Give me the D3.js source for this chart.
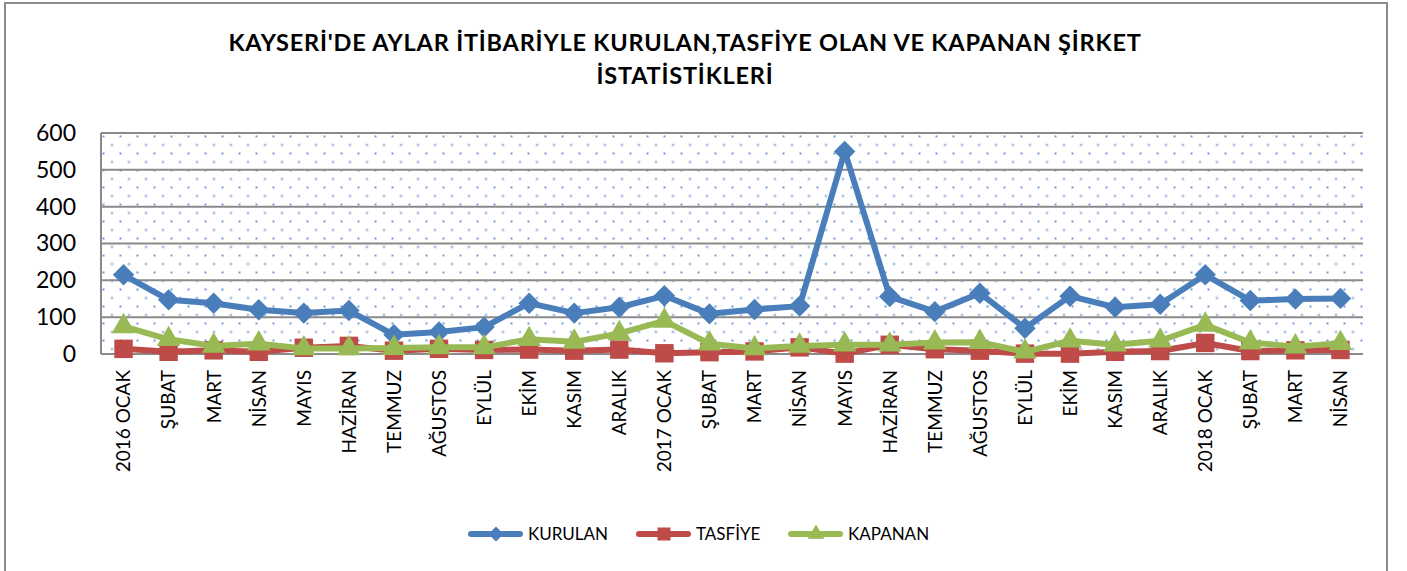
<!DOCTYPE html>
<html>
<head>
<meta charset="utf-8">
<script src="https://cdn.jsdelivr.net/npm/d3@7.9.0/dist/d3.min.js"></script>
<style>
  body { margin: 0; background: #fff; }
  svg { display: block; font-family: Lato, "Open Sans", sans-serif; }
</style>
</head>
<body>
<svg id="chart" width="1407" height="571"></svg>
<script>
const months = ['2016 OCAK', 'ŞUBAT', 'MART', 'NİSAN', 'MAYIS', 'HAZİRAN', 'TEMMUZ', 'AĞUSTOS', 'EYLÜL', 'EKİM', 'KASIM', 'ARALIK',
  '2017 OCAK', 'ŞUBAT', 'MART', 'NİSAN', 'MAYIS', 'HAZİRAN', 'TEMMUZ', 'AĞUSTOS', 'EYLÜL', 'EKİM', 'KASIM', 'ARALIK',
  '2018 OCAK', 'ŞUBAT', 'MART', 'NİSAN'];
const kurulan = [215, 147, 138, 120, 111, 118, 52, 60, 73, 138, 111, 127, 158, 109, 121, 130, 550, 156, 115, 165, 70, 157, 127, 135, 215, 145, 149, 151];
const tasfiye = [14, 6, 10, 6, 17, 22, 9, 14, 11, 12, 9, 12, 2, 5, 7, 18, 1, 25, 13, 9, 1, 1, 6, 8, 30, 8, 10, 11];
const kapanan = [75, 40, 22, 28, 15, 15, 16, 18, 18, 40, 33, 56, 90, 28, 15, 22, 25, 25, 31, 32, 6, 36, 25, 36, 79, 31, 20, 29];
const yTicks = [0, 100, 200, 300, 400, 500, 600];
const seriesNames = ['KURULAN', 'TASFİYE', 'KAPANAN'];

// diamond = square turned 45 degrees, like the Excel marker
const diamond = {
  draw(ctx, size) {
    const r = Math.sqrt(size / 2);
    ctx.moveTo(0, -r); ctx.lineTo(r, 0); ctx.lineTo(0, r); ctx.lineTo(-r, 0); ctx.closePath();
  }
};

const series = [
  { name: seriesNames[0], values: kurulan, color: '#4a7ebb', symbol: diamond, size: 230 },
  { name: seriesNames[1], values: tasfiye, color: '#be4b48', symbol: d3.symbolSquare, size: 340 },
  { name: seriesNames[2], values: kapanan, color: '#98b954', symbol: d3.symbolTriangle, size: 240 }
];

const svg = d3.select('#chart');
const plot = { left: 101, right: 1363, top: 133, bottom: 354 };

// outer frame
svg.append('rect')
  .attr('x', 5).attr('y', 3).attr('width', 1382).attr('height', 580)
  .attr('fill', '#fff').attr('stroke', '#8c8c8c').attr('stroke-width', 2);

// dotted fill pattern
const pat = svg.append('defs').append('pattern')
  .attr('id', 'dots').attr('patternUnits', 'userSpaceOnUse')
  .attr('x', plot.left + 1.5).attr('y', plot.top + 2.5)
  .attr('width', 17).attr('height', 17);
pat.append('rect').attr('width', 17).attr('height', 17).attr('fill', '#fff');
pat.append('rect').attr('x', 0).attr('y', 0).attr('width', 2).attr('height', 2).attr('fill', '#6f9bd6');
pat.append('rect').attr('x', 8.5).attr('y', 8.5).attr('width', 2).attr('height', 2).attr('fill', '#6f9bd6');

svg.append('rect')
  .attr('x', plot.left).attr('y', plot.top)
  .attr('width', plot.right - plot.left).attr('height', plot.bottom - plot.top)
  .attr('fill', 'url(#dots)');

const x = d3.scaleBand().domain(d3.range(months.length)).range([plot.left, plot.right]);
const y = d3.scaleLinear().domain([0, 600]).range([plot.bottom, plot.top]);
const cx = i => x(i) + x.bandwidth() / 2;

// gridlines
svg.append('g').selectAll('line')
  .data(yTicks)
  .join('line')
  .attr('x1', plot.left).attr('x2', plot.right)
  .attr('y1', d => y(d)).attr('y2', d => y(d))
  .attr('stroke', '#8a8a8a').attr('stroke-width', 2);

svg.append('line')
  .attr('x1', plot.left).attr('x2', plot.left)
  .attr('y1', plot.top).attr('y2', plot.bottom)
  .attr('stroke', '#8a8a8a').attr('stroke-width', 2);

// y axis labels
const yAxis = svg.append('g')
  .attr('transform', `translate(${plot.left},0)`)
  .call(d3.axisLeft(y).tickValues(yTicks).tickSize(0).tickPadding(25));
yAxis.select('.domain').remove();
yAxis.selectAll('text')
  .attr('font-family', 'Lato, sans-serif')
  .attr('font-size', 23)
  .attr('fill', '#000');

// x axis labels
const xAxis = svg.append('g')
  .attr('transform', `translate(0,${plot.bottom})`)
  .call(d3.axisBottom(x).tickFormat(i => months[i]).tickSize(0));
xAxis.select('.domain').remove();
xAxis.selectAll('text')
  .attr('font-family', 'Lato, sans-serif')
  .attr('font-size', 19)
  .attr('fill', '#000')
  .attr('transform', 'rotate(-90)')
  .attr('text-anchor', 'end')
  .attr('x', -16)
  .attr('y', 0)
  .attr('dy', '0.36em');

// lines + markers
const line = d3.line().x((d, i) => cx(i)).y(d => y(d));
series.forEach(s => {
  svg.append('path')
    .datum(s.values)
    .attr('d', line)
    .attr('fill', 'none')
    .attr('stroke', s.color)
    .attr('stroke-width', 6)
    .attr('stroke-linejoin', 'round');
  svg.append('g').selectAll('path')
    .data(s.values)
    .join('path')
    .attr('transform', (d, i) => `translate(${cx(i)},${y(d)})`)
    .attr('d', d3.symbol().type(s.symbol).size(s.size))
    .attr('fill', s.color);
});

// title
const title = svg.append('text')
  .attr('x', 685).attr('y', 51)
  .attr('text-anchor', 'middle')
  .attr('font-family', 'Lato, sans-serif')
  .attr('font-weight', 'bold')
  .attr('font-size', 23.5)
  .attr('letter-spacing', 0.8)
  .attr('fill', '#000');
title.append('tspan').attr('x', 685).attr('dy', 0).text("KAYSERİ'DE AYLAR İTİBARİYLE KURULAN,TASFİYE OLAN VE KAPANAN ŞİRKET");
title.append('tspan').attr('x', 685).attr('dy', 33).text('İSTATİSTİKLERİ');

// legend
const legendX = [468, 636, 788];
const legend = svg.append('g');
series.forEach((s, k) => {
  const g = legend.append('g').attr('transform', `translate(${legendX[k]},534)`);
  g.append('line')
    .attr('x1', 3).attr('x2', 52).attr('y1', 0).attr('y2', 0)
    .attr('stroke', s.color).attr('stroke-width', 6).attr('stroke-linecap', 'round');
  g.append('path')
    .attr('transform', 'translate(28,0)')
    .attr('d', d3.symbol().type(s.symbol).size(s.size * 0.5))
    .attr('fill', s.color);
  g.append('text')
    .attr('x', 60).attr('y', 0).attr('dy', '0.36em')
    .attr('font-family', 'Lato, sans-serif')
    .attr('font-size', 17)
    .attr('fill', '#000')
    .text(s.name);
});
</script>
</body>
</html>
